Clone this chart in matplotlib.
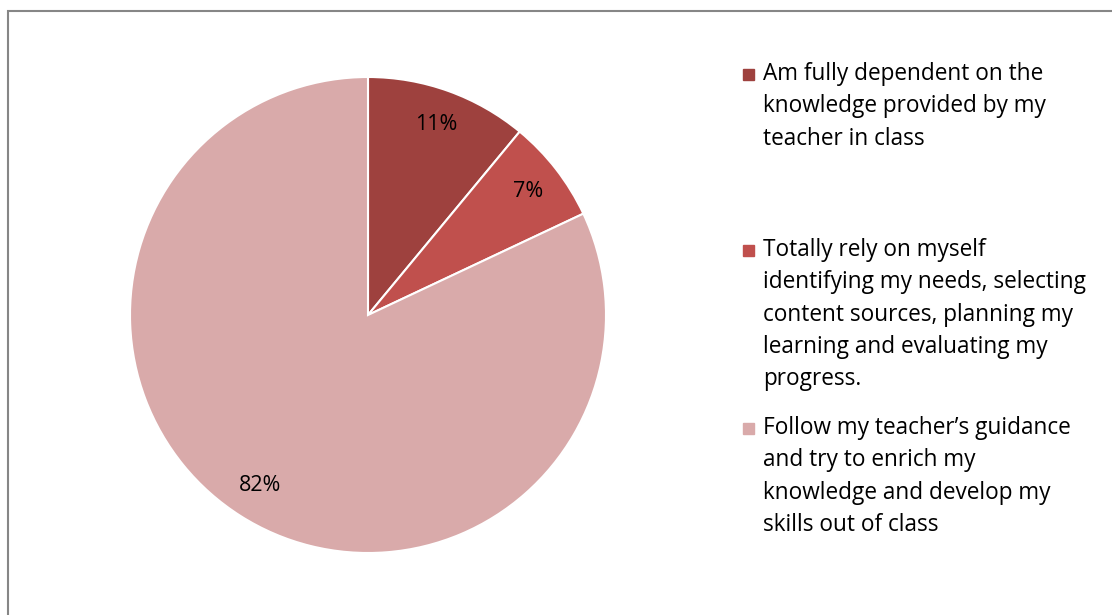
import matplotlib.pyplot as plt
from matplotlib.patches import Rectangle

labels = [["Am fully dependent on the", "knowledge provided by my", "teacher in class"],
          ["Totally rely on myself", "identifying my needs, selecting", "content sources, planning my",
           "learning and evaluating my", "progress."],
          ["Follow my teacher\u2019s guidance", "and try to enrich my", "knowledge and develop my",
           "skills out of class"]]
values = [11, 7, 82]
colors = ["#9E413E", "#C0504D", "#D9AAAA"]

W, H = 1112, 615
fig = plt.figure(figsize=(W / 100, H / 100), dpi=100)
plt.rcParams['font.family'] = ['Open Sans', 'DejaVu Sans']

# chart frame (cut off at the right and bottom in the original)
fig.patches.append(Rectangle((8 / W, -0.05), 1.2, 1 - 11 / H + 0.05, transform=fig.transFigure,
                             fill=False, edgecolor="#868686", linewidth=1.5))

cx, cy, r = 368, 315, 238
ax = fig.add_axes([(cx - r) / W, 1 - (cy + r) / H, 2 * r / W, 2 * r / H])
wedges, texts, autotexts = ax.pie(values, colors=colors, startangle=90, counterclock=False,
                                  autopct='%1.0f%%', pctdistance=0.85, radius=1,
                                  wedgeprops=dict(edgecolor="white", linewidth=1.5),
                                  textprops=dict(fontsize=15.5, color="black"))
ax.set_xlim(-1, 1)
ax.set_ylim(-1, 1)
ax.axis('off')

# legend entries, one line at a time
tops = [74, 250, 428]
for lines, col, y in zip(labels, colors, tops):
    fig.patches.append(Rectangle((743 / W, 1 - (y + 6) / H), 11 / W, 11 / H,
                                 transform=fig.transFigure, color=col))
    for i, line in enumerate(lines):
        fig.text(763 / W, 1 - (y + i * 32.3) / H, line, fontsize=16.3,
                 va='center', ha='left', color="black")

fig.savefig("out.png", dpi=100)
